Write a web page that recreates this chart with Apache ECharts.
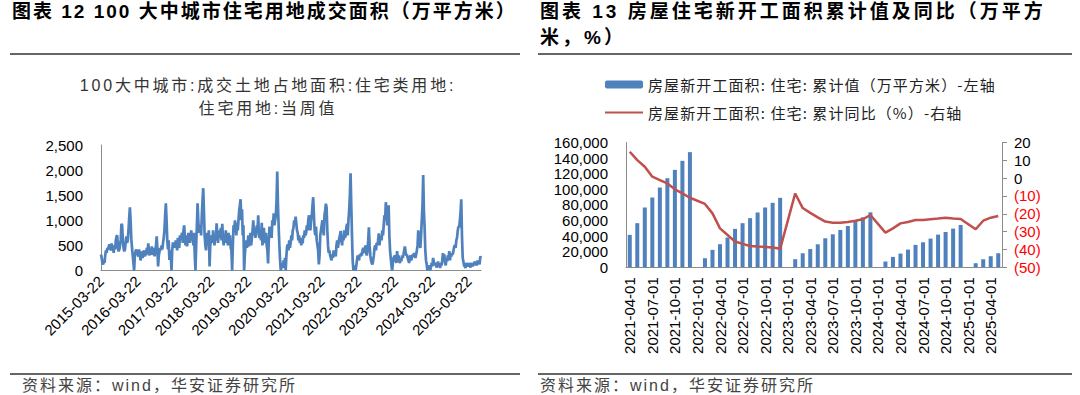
<!DOCTYPE html>
<html><head><meta charset="utf-8">
<script src="https://cdn.jsdelivr.net/npm/echarts@6/dist/echarts.min.js"></script>
<style>html,body{margin:0;padding:0;background:#fff;}#c{width:1080px;height:395px;}</style>
</head><body><div id="c"></div>
<script>
// ---------- Left chart: 100 大中城市住宅用地成交面积 (weekly, from 2015-03-22) ----------
const leftStartDate = '2015-03-22';
const leftTickLabels = ['2015-03-22','2016-03-22','2017-03-22','2018-03-22','2019-03-22','2020-03-22','2021-03-22','2022-03-22','2023-03-22','2024-03-22','2025-03-22'];
const leftYTicks = [0, 500, 1000, 1500, 2000, 2500];
const weeklyLand = [
  // 2015-16
  320,250,150,120,180,150, 300,400,350,450,420,480, 520,460,400,540,420,480, 350,500,420,600,680,700,
  450,380,420,500,620,930, 900,600,450,380,420,560, 680,550,600,800,1050,1260, 1000,620,450,300,150,0, 300,380,420,350,
  // 2016-17
  350,280,420,330,200,300,380,250, 350,400,280,380,300,450,320,540, 400,300,420,350,480,310,380,450,
  280,400,500,680,420,80,300,380, 450,400,500,420,550,650,800,1100, 1340,1000,600,420,600,210,400,300, 0,400,560,500,
  // 2017-18
  550,450,600,520,400,650,500,450,700, 600,680,750,550,800,900,650,500,700, 480,600,750,700,550,650,800,600,700,
  500,750,300,0,500,900,1340, 1000,750,850,900,700,1100,1400,1640, 1200,700,500,400,600,750,600,800,80,500,
  // 2018-19
  600,700,550,800,650,500,720,600, 940,700,550,800,650,700,850,600, 930,650,500,700,550,800,600,650,
  500,750,600,700,450,400,0,500, 900,800,1000,850,700,950,800,1000, 1200,1300,1420,1000,1220,700,900,0, 300,500,600,450,
  // 2019-20
  550,700,480,600,750,500,650,800, 1000,700,850,650,750,900,800,1100, 700,650,800,600,950,500,700,850,
  600,550,750,500,400,140,600,875, 700,800,650,1000,900,1140,900,1000, 1100,1400,1970,1300,870,500,200,0, 80,150,50,200,
  // 2020-21
  100,250,0,300,480,520,400,600, 450,550,700,600,800,850,1000,900, 1075,950,800,750,600,700,550,650,
  500,600,540,700,650,800,700,750, 900,800,1000,1100,900,800,1000,1100, 1300,1460,1100,800,700,875,600,500, 400,120,300,700,
  // 2021-22
  800,900,1000,850,700,1100,1200,1330, 1250,800,500,350,400,300,250,200, 320,250,400,300,350,280,500,600,
  450,550,650,700,790,600,500,700, 600,800,650,700,850,930,700,1000, 1200,1500,1935,1300,700,200,0,50, 100,0,80,200,
  // 2022-23
  300,250,200,320,280,350,300,400, 450,400,350,500,350,300,400,600, 860,500,300,200,150,120,200,300,
  450,500,400,550,500,600,740,500, 650,700,600,800,700,900,1100,1000, 1360,1200,900,1100,1300,700,400,240, 100,0,150,250,
  // 2023-24
  250,300,200,150,385,250,300,180, 150,250,180,300,250,320,400,480, 385,300,320,250,200,150,250,300,
  200,250,320,280,350,300,250,320, 400,500,800,600,500,450,700,1000, 1300,1900,1200,860,400,200,120,0, 80,50,100,0,
  // 2024-25
  0,150,80,250,180,100,150,120, 60,100,180,80,120,50,150,100, 200,345,200,320,150,100,250,180,
  300,250,385,200,320,280,350,320, 400,480,500,450,600,650,790,875, 860,1000,1150,1420,700,260,180,100, 80,50,150,100,
  // 2025
  120,80,150,100,60,150,120,80, 150,100,180,120,150,100,200,150, 180,120,280,250
];

// ---------- Right chart: 房屋住宅新开工面积累计值及同比 (monthly) ----------
const months = [
  '2021-04-01','2021-05-01','2021-06-01','2021-07-01','2021-08-01','2021-09-01','2021-10-01','2021-11-01','2021-12-01',
  '2022-01-01','2022-02-01','2022-03-01','2022-04-01','2022-05-01','2022-06-01','2022-07-01','2022-08-01','2022-09-01','2022-10-01','2022-11-01','2022-12-01',
  '2023-01-01','2023-02-01','2023-03-01','2023-04-01','2023-05-01','2023-06-01','2023-07-01','2023-08-01','2023-09-01','2023-10-01','2023-11-01','2023-12-01',
  '2024-01-01','2024-02-01','2024-03-01','2024-04-01','2024-05-01','2024-06-01','2024-07-01','2024-08-01','2024-09-01','2024-10-01','2024-11-01','2024-12-01',
  '2025-01-01','2025-02-01','2025-03-01','2025-04-01','2025-05-01'
];
const startsCum = [
  41500,56500,76600,89400,102200,114200,124900,136500,147600,
  null,11550,22250,29500,38100,49200,56500,62900,70200,76600,82600,89000,
  null,10300,17900,23300,29400,37100,42200,47800,52900,59700,64000,70400,
  null,7300,13200,17500,22600,28600,32000,36700,41800,45200,49500,54200,
  null,5100,10200,14100,17900
];
const startsYoY = [
  14.8,10.1,6.4,0.8,-1.1,-3.0,-6.3,-8.6,-11.0,
  null,-14.5,-19.8,-28.2,-31.9,-35.6,-36.9,-38.1,-38.4,-38.6,-39.0,-39.7,
  null,-8.6,-16.8,-19.5,-22.0,-24.4,-25.0,-25.0,-24.6,-23.9,-23.1,-20.7,
  null,-30.6,-28.2,-25.4,-24.6,-23.5,-23.5,-23.1,-22.7,-22.2,-22.7,-22.9,
  null,-28.7,-23.9,-22.2,-21.3
];
const barName = '房屋新开工面积: 住宅: 累计值（万平方米）-左轴';
const lineName = '房屋新开工面积: 住宅: 累计同比（%）-右轴';
const leftTitle = '图表 12 100 大中城市住宅用地成交面积（万平方米）';
const rightTitle1 = '图表 13 房屋住宅新开工面积累计值及同比（万平方';
const rightTitle2 = '米，%）';
const leftSub1 = '100大中城市:成交土地占地面积:住宅类用地:';
const leftSub2 = '住宅用地:当周值';
const source = '资料来源：wind，华安证券研究所';

const FONT = "'Liberation Sans', 'Noto Sans CJK SC', sans-serif";
const CJK = "'Noto Sans CJK SC', 'Liberation Sans', sans-serif";
const YEAR_DAYS = 365.25;
const landPoints = weeklyLand.map((v, i) => [i * 7, v]);

const chart = echarts.init(document.getElementById('c'), null, {renderer: 'svg', width: 1080, height: 395});
chart.setOption({
  animation: false,
  textStyle: {fontFamily: FONT},
  graphic: [
    {type: 'text', left: 12, top: 2, style: {text: leftTitle, font: "bold 19px " + FONT, fill: '#000'}},
    {type: 'text', left: 540, top: -2, style: {text: rightTitle1 + '\n' + rightTitle2, font: "bold 19px " + FONT, fill: '#000', lineHeight: 26}},
    {type: 'line', shape: {x1: 10, y1: 54, x2: 520, y2: 54}, style: {stroke: '#333', lineWidth: 1.5}},
    {type: 'line', shape: {x1: 538, y1: 54, x2: 1072, y2: 54}, style: {stroke: '#333', lineWidth: 1.5}},
    {type: 'line', shape: {x1: 10, y1: 374, x2: 520, y2: 374}, style: {stroke: '#333', lineWidth: 1.5}},
    {type: 'line', shape: {x1: 538, y1: 374, x2: 1072, y2: 374}, style: {stroke: '#333', lineWidth: 1.5}},
    {type: 'text', x: 268, y: 74, style: {text: leftSub1 + '\n' + leftSub2, font: "16px " + FONT, fill: '#333', align: 'center', textAlign: 'center', lineHeight: 23}},
    {type: 'text', left: 22, top: 377, style: {text: source, font: "16px " + FONT, fill: '#444'}},
    {type: 'text', left: 540, top: 377, style: {text: source, font: "16px " + FONT, fill: '#444'}}
  ],
  legend: {
    data: [barName, {name: lineName, itemStyle: {opacity: 0}}],
    orient: 'vertical', left: 599, top: 72, itemWidth: 38, itemHeight: 8, itemGap: 13,
    textStyle: {fontSize: 15, color: '#222', fontFamily: CJK}
  },
  grid: [
    {left: 101, top: 145, width: 380, height: 125.5},
    {left: 626, top: 142.5, width: 376, height: 124.7}
  ],
  xAxis: [
    {type: 'value', gridIndex: 0, min: 0, max: landPoints[landPoints.length - 1][0], interval: YEAR_DAYS,
     axisLine: {show: true, lineStyle: {color: '#8c8c8c', width: 1}}, axisTick: {show: false}, splitLine: {show: false},
     axisLabel: {rotate: 45, fontSize: 15, color: '#000', margin: 8, showMaxLabel: false,
       formatter: v => { const k = Math.round(v / YEAR_DAYS); return Math.abs(v / YEAR_DAYS - k) < 0.01 ? (leftTickLabels[k] || '') : ''; }}},
    {type: 'category', gridIndex: 1, data: months, boundaryGap: true,
     axisLine: {show: true, lineStyle: {color: '#8c8c8c', width: 1}}, axisTick: {show: false},
     axisLabel: {interval: 2, rotate: 90, fontSize: 15, color: '#000', margin: 10}}
  ],
  yAxis: [
    {type: 'value', gridIndex: 0, min: leftYTicks[0], max: leftYTicks[leftYTicks.length - 1], interval: 500,
     axisLine: {show: true, lineStyle: {color: '#8c8c8c', width: 1}}, axisTick: {show: false}, splitLine: {show: false},
     axisLabel: {fontSize: 15, color: '#000', margin: 18, formatter: v => v.toLocaleString('en-US')}},
    {type: 'value', gridIndex: 1, min: 0, max: 160000, interval: 20000,
     axisLine: {show: true, lineStyle: {color: '#8c8c8c', width: 1}}, axisTick: {show: false}, splitLine: {show: false},
     axisLabel: {fontSize: 15, color: '#000', margin: 18, formatter: v => v.toLocaleString('en-US')}},
    {type: 'value', gridIndex: 1, position: 'right', min: -50, max: 20, interval: 10,
     axisLine: {show: true, lineStyle: {color: '#8c8c8c', width: 1}}, axisTick: {show: true, length: 5, lineStyle: {color: '#8c8c8c'}}, splitLine: {show: false},
     axisLabel: {fontSize: 15, color: '#000', margin: 12,
       formatter: v => v < 0 ? '{neg|(' + (-v) + ')}' : String(v),
       rich: {neg: {color: '#ff0000', fontSize: 15, fontFamily: FONT}}}}
  ],
  series: [
    {type: 'line', xAxisIndex: 0, yAxisIndex: 0, data: landPoints, symbol: 'none',
     lineStyle: {color: '#4F81BD', width: 2.7}, itemStyle: {color: '#4F81BD'}},
    {type: 'bar', name: barName, xAxisIndex: 1, yAxisIndex: 1, data: startsCum, barWidth: 4,
     itemStyle: {color: '#4F81BD'}},
    {type: 'line', name: lineName, xAxisIndex: 1, yAxisIndex: 2, data: startsYoY, symbol: 'none', connectNulls: true,
     lineStyle: {color: '#C0504D', width: 2.5}, itemStyle: {color: '#C0504D'}}
  ]
});

// Word-style widened letter spacing of the report's captions
const spacing = {};
spacing[leftTitle] = 2; spacing[rightTitle1] = 3; spacing[rightTitle2] = 3;
spacing[leftSub1] = 2.8; spacing[leftSub2] = 2.8; spacing[barName] = 1.1; spacing[lineName] = 1.1; spacing[source] = 2;
function applySpacing() {
  document.querySelectorAll('#c text').forEach(t => {
    const s = spacing[t.textContent];
    if (s !== undefined) t.setAttribute('letter-spacing', s);
  });
}
chart.on('finished', applySpacing);
setTimeout(applySpacing, 50);
</script></body></html>
